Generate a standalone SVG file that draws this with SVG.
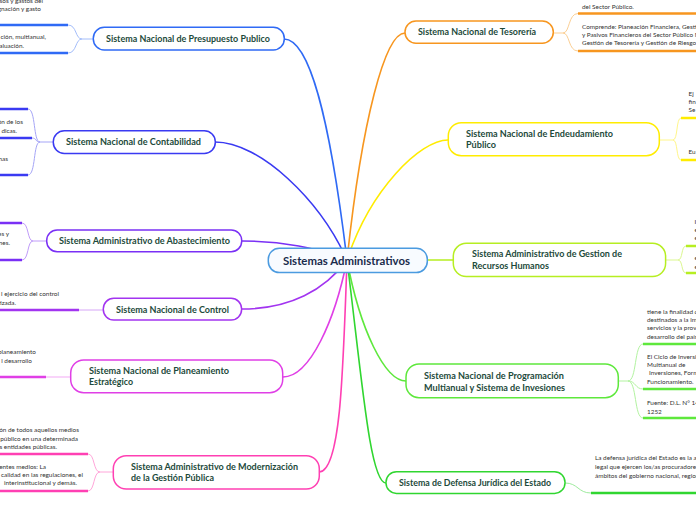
<svg xmlns="http://www.w3.org/2000/svg" width="696" height="520" viewBox="0 0 696 520">
<style>
.bg{fill:#ffffff}
.c{fill:none;stroke-width:1.6;stroke-linecap:round}
.b{fill:none;stroke-width:1}
.u{fill:none;stroke-width:2.5}
.box{fill:#ffffff;stroke-width:1.5}
.t{font-family:Lato,"Open Sans",sans-serif;font-weight:700;font-size:9.2px;fill:#1d4a3b}
.s{font-family:Lato,"Open Sans",sans-serif;font-size:6.4px;fill:#333333}
.e{text-anchor:end}
</style>
<rect class="bg" x="0" y="0" width="696" height="520"/>
<g id="connectors">
  <path class="c" stroke="#2f6af5" d="M347 260 C330 120 310 39 284 39"/>
  <path class="c" stroke="#3a3af2" d="M347 260 C320 200 260 142 215 142"/>
  <path class="c" stroke="#7a30f5" d="M347 260 C320 248 280 241 242 241"/>
  <path class="c" stroke="#a234f0" d="M347 260 C325 290 290 309 242 309"/>
  <path class="c" stroke="#e03fe6" d="M347 260 C335 320 310 377 283 377"/>
  <path class="c" stroke="#ff40b3" d="M347 260 C343 380 340 472 319 472"/>
  <path class="c" stroke="#f7961f" d="M347 260 C362 120 385 33 405 33"/>
  <path class="c" stroke="#ffec00" d="M347 260 C370 190 420 140 448 140"/>
  <path class="c" stroke="#b6ee22" d="M347 260 H453"/>
  <path class="c" stroke="#5ee83c" d="M347 260 C360 330 385 381 406 381"/>
  <path class="c" stroke="#30d630" d="M347 260 C362 380 370 483 386 483"/>
  <path class="b" stroke="#a3bdfa" d="M93 39 H82 M82 39 C75 39 77 25 68 25 M82 39 C75 39 77 53 68 53"/>
  <path class="b" stroke="#a5a5f7" d="M53 142 H40 M40 142 C33 142 36 109 28 109 M40 142 C35 142 37 138 32 138 M40 142 C33 142 36 175 28 175"/>
  <path class="b" stroke="#c09cf9" d="M47 241 H33 M33 241 C27 241 29 223 22 223 M33 241 C27 241 29 260 22 260"/>
  <path class="b" stroke="#d6a6f7" d="M103 310 H79"/>
  <path class="b" stroke="#f3a9f5" d="M71 377 H46"/>
  <path class="b" stroke="#ffa6da" d="M113 472 H100 M100 472 C93 472 95 454 88 454 M100 472 C93 472 95 491 88 491"/>
  <path class="b" stroke="#fbcf94" d="M553 33 H563 M563 33 C570 33 568 13.5 578 13.5 M563 33 C570 33 568 51 578 51"/>
  <path class="b" stroke="#fff68a" d="M659 140 H673 M673 140 C678 140 676 118 681 118 M673 140 C678 140 676 160 681 160"/>
  <path class="b" stroke="#dbf78f" d="M665 260 H678 M678 260 C683 260 681 246 686 246 M678 260 C683 260 681 273 686 273"/>
  <path class="b" stroke="#b2f3a0" d="M618 381 H628 M628 381 C637 381 634 344 643 344 M628 381 C636 381 635 389 643 389 M628 381 C637 381 634 418 643 418"/>
  <path class="b" stroke="#9eeb9e" d="M565 483 C578 483 578 493 591 493"/>
</g>

<g id="center">
  <rect x="268.3" y="248.3" width="159" height="24.3" rx="11" fill="#f8fbff" stroke="#4b9be0" stroke-width="1.5"/>
  <text x="283" y="264.7" font-family="Lato,'Open Sans',sans-serif" font-weight="700" font-size="11.8" fill="#1a2b4c" textLength="127" lengthAdjust="spacingAndGlyphs">Sistemas Administrativos</text>
</g>

<g id="presupuesto">
  <rect class="box" stroke="#2f6af5" x="93.3" y="27.3" width="191" height="22.7" rx="11"/>
  <text class="t" x="106" y="42.3" textLength="164" lengthAdjust="spacingAndGlyphs">Sistema Nacional de Presupuesto Publico</text>
</g>
<g id="presupuesto-1">
  <path class="u" stroke="#2f6af5" d="M0 25 H68"/>
  <text class="s e" x="43" y="2.5">ngresos y gastos del</text>
  <text class="s e" x="41" y="11">gnación y gasto</text>
</g>
<g id="presupuesto-2">
  <path class="u" stroke="#2f6af5" d="M0 53 H68"/>
  <text class="s e" x="46" y="39">ción, multianual,</text>
  <text class="s e" x="24" y="47.5">aluación.</text>
</g>

<g id="contabilidad">
  <rect class="box" stroke="#3a3af2" x="53.3" y="130.7" width="162" height="22.7" rx="11"/>
  <text class="t" x="66" y="145" textLength="135" lengthAdjust="spacingAndGlyphs">Sistema Nacional de Contabilidad</text>
</g>
<g id="contabilidad-1"><path class="u" stroke="#3a3af2" d="M0 109 H28"/></g>
<g id="contabilidad-2">
  <path class="u" stroke="#3a3af2" d="M0 138 H32"/>
  <text class="s e" x="23" y="124">ón de los</text>
  <text class="s e" x="17" y="133">dicas.</text>
</g>
<g id="contabilidad-3">
  <path class="u" stroke="#3a3af2" d="M0 175 H28"/>
  <text class="s e" x="8" y="161">nas</text>
</g>

<g id="abastecimiento">
  <rect class="box" stroke="#7a30f5" x="46.7" y="230" width="195" height="21.7" rx="10.5"/>
  <text class="t" x="59" y="244.3" textLength="171" lengthAdjust="spacingAndGlyphs">Sistema Administrativo de Abastecimiento</text>
</g>
<g id="abastecimiento-1"><path class="u" stroke="#7a30f5" d="M0 223 H22"/></g>
<g id="abastecimiento-2">
  <path class="u" stroke="#7a30f5" d="M0 260 H22"/>
  <text class="s e" x="9" y="236">es y</text>
  <text class="s e" x="10" y="245">nes.</text>
</g>

<g id="control">
  <rect class="box" stroke="#a234f0" x="103.3" y="298.3" width="138.3" height="21.7" rx="10.5"/>
  <text class="t" x="116" y="312.7" textLength="113" lengthAdjust="spacingAndGlyphs">Sistema Nacional de Control</text>
</g>
<g id="control-1">
  <path class="u" stroke="#a234f0" d="M0 310 H79"/>
  <text class="s e" x="59" y="296">l ejercicio del control</text>
  <text class="s e" x="16" y="305">tizada.</text>
</g>

<g id="planeamiento">
  <rect class="box" stroke="#e03fe6" x="70.7" y="360" width="212" height="32.7" rx="13"/>
  <text class="t" x="89" y="374.3" textLength="140" lengthAdjust="spacingAndGlyphs">Sistema Nacional de Planeamiento</text>
  <text class="t" x="89" y="385.3" textLength="44" lengthAdjust="spacingAndGlyphs">Estratégico</text>
</g>
<g id="planeamiento-1">
  <path class="u" stroke="#e03fe6" d="M0 377 H46"/>
  <text class="s e" x="36" y="354">planeamiento</text>
  <text class="s e" x="32" y="363">l desarrollo</text>
</g>

<g id="modernizacion">
  <rect class="box" stroke="#ff40b3" x="113.3" y="455.7" width="206" height="33.3" rx="13"/>
  <text class="t" x="131" y="470" textLength="167" lengthAdjust="spacingAndGlyphs">Sistema Administrativo de Modernización</text>
  <text class="t" x="131" y="481" textLength="83" lengthAdjust="spacingAndGlyphs">de la Gestión Pública</text>
</g>
<g id="modernizacion-1">
  <path class="u" stroke="#ff40b3" d="M0 454 H88"/>
  <text class="s e" x="79" y="432">ón de todos aquellos medios</text>
  <text class="s e" x="78" y="440.5">público en una determinada</text>
  <text class="s e" x="57" y="449">s entidades públicas.</text>
</g>
<g id="modernizacion-2">
  <path class="u" stroke="#ff40b3" d="M0 491 H88"/>
  <text class="s e" x="46" y="469">entes medios:  La</text>
  <text class="s e" x="83" y="477">calidad en las regulaciones, el</text>
  <text class="s e" x="77" y="485">interinstitucional y demás.</text>
</g>

<g id="tesoreria">
  <rect class="box" stroke="#f7961f" x="405" y="21" width="148.3" height="22.3" rx="11"/>
  <text class="t" x="418" y="35.3" textLength="118" lengthAdjust="spacingAndGlyphs">Sistema Nacional de Tesorería</text>
</g>
<g id="tesoreria-1">
  <path class="u" stroke="#f7961f" d="M578 13.5 H696"/>
  <text class="s" x="582" y="8.5">del Sector Público.</text>
</g>
<g id="tesoreria-2">
  <path class="u" stroke="#f7961f" d="M578 51 H696"/>
  <text class="s" x="582" y="28.5">Comprende: Planeación Financiera, Gestión</text>
  <text class="s" x="582" y="36.5">y Pasivos Financieros del Sector Público No</text>
  <text class="s" x="582" y="45">Gestión de Tesorería y Gestión de Riesgos</text>
</g>

<g id="endeudamiento">
  <rect class="box" stroke="#ffec00" x="448.3" y="122.7" width="211" height="33" rx="13"/>
  <text class="t" x="466" y="136.7" textLength="147" lengthAdjust="spacingAndGlyphs">Sistema Nacional de Endeudamiento</text>
  <text class="t" x="466" y="148" textLength="30" lengthAdjust="spacingAndGlyphs">Público</text>
</g>
<g id="endeudamiento-1">
  <path class="u" stroke="#ffec00" d="M681 118 H696"/>
  <text class="s" x="688.5" y="96">Ej</text>
  <text class="s" x="688.5" y="104">fin</text>
  <text class="s" x="688.5" y="112">Se</text>
</g>
<g id="endeudamiento-2">
  <path class="u" stroke="#ffec00" d="M681 160 H696"/>
  <text class="s" x="688.5" y="154">Eu</text>
</g>

<g id="rrhh">
  <rect class="box" stroke="#b6ee22" x="453.3" y="243.3" width="212.3" height="33.3" rx="13"/>
  <text class="t" x="472" y="257.3" textLength="150" lengthAdjust="spacingAndGlyphs">Sistema Administrativo de Gestion de</text>
  <text class="t" x="472" y="269" textLength="77" lengthAdjust="spacingAndGlyphs">Recursos Humanos</text>
</g>
<g id="rrhh-1">
  <path class="u" stroke="#b6ee22" d="M686 246 H696"/>
  <text class="s" x="694.5" y="224">I</text>
  <text class="s" x="694.5" y="232">e</text>
  <text class="s" x="694.5" y="240">e</text>
</g>
<g id="rrhh-2">
  <path class="u" stroke="#b6ee22" d="M686 273 H696"/>
  <text class="s" x="694.5" y="260">e</text>
  <text class="s" x="694.5" y="269">e</text>
</g>

<g id="programacion">
  <rect class="box" stroke="#5ee83c" x="406" y="364" width="212.3" height="33.7" rx="13"/>
  <text class="t" x="424" y="379.3" textLength="140" lengthAdjust="spacingAndGlyphs">Sistema Nacional de Programación</text>
  <text class="t" x="424" y="390.7" textLength="141" lengthAdjust="spacingAndGlyphs">Multianual y Sistema de Invesiones</text>
</g>
<g id="programacion-1">
  <path class="u" stroke="#5ee83c" d="M643 344 H696"/>
  <text class="s" x="647" y="314">tiene la finalidad de</text>
  <text class="s" x="647" y="322">destinados a la imp</text>
  <text class="s" x="647" y="330">servicios y la provi</text>
  <text class="s" x="647" y="339">desarrollo del país</text>
</g>
<g id="programacion-2">
  <path class="u" stroke="#5ee83c" d="M643 389 H696"/>
  <text class="s" x="647" y="359">El Ciclo de Inversió</text>
  <text class="s" x="647" y="367">Multianual de</text>
  <text class="s" x="649" y="375">Inversiones, Form</text>
  <text class="s" x="647" y="383.5">Funcionamiento.</text>
</g>
<g id="programacion-3">
  <path class="u" stroke="#5ee83c" d="M643 418 H696"/>
  <text class="s" x="647" y="405">Fuente: D.L. N° 14</text>
  <text class="s" x="647" y="414">1252</text>
</g>

<g id="defensa">
  <rect class="box" stroke="#30d630" x="386" y="471.7" width="179" height="21.7" rx="10.5"/>
  <text class="t" x="399" y="486" textLength="152" lengthAdjust="spacingAndGlyphs">Sistema de Defensa Jurídica del Estado</text>
</g>
<g id="defensa-1">
  <path class="u" stroke="#30d630" d="M591 493 H696"/>
  <text class="s" x="595" y="460">La defensa jurídica del Estado es la actividad</text>
  <text class="s" x="595" y="469">legal que ejercen los/as procuradores/as</text>
  <text class="s" x="595" y="478">ámbitos del gobierno nacional, regional</text>
</g>
</svg>
